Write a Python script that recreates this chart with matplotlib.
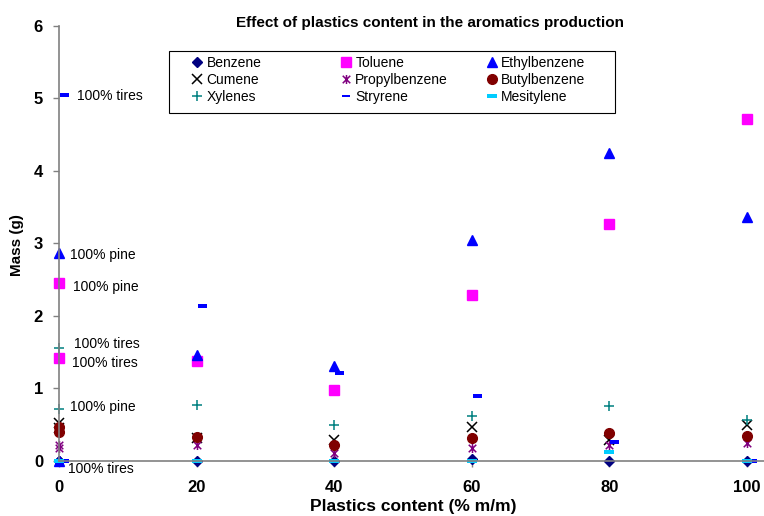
import matplotlib
matplotlib.use("Agg")
import matplotlib.pyplot as plt
from matplotlib.path import Path
from matplotlib.patches import Rectangle
from matplotlib.lines import Line2D

plt.rcParams['font.family'] = ['Liberation Sans', 'DejaVu Sans']

# plastics content; the two 0 entries are 100% pine and 100% tires
x = [0, 0, 20, 40, 60, 80, 100]
benzene = [0, 0, 0, 0, 0.03, 0, 0]
toluene = [2.45, 1.41, 1.38, 0.97, 2.28, 3.26, 4.72]
ethylbenzene = [2.86, 0.0, 1.46, 1.30, 3.04, 4.25, 3.36]
cumene = [0.52, 0.45, 0.31, 0.28, 0.46, 0.28, 0.49]
propylbenzene = [0.22, 0.18, 0.21, 0.11, 0.18, 0.22, 0.24]
butylbenzene = [0.47, 0.39, 0.33, 0.22, 0.32, 0.38, 0.34]
xylenes = [0.71, 1.56, 0.77, 0.49, 0.62, 0.75, 0.56]
stryrene = [0.0, 5.05, 2.13, 1.21, 0.89, 0.26, 0.0]
mesitylene = [0, 0, 0, 0, 0, 0.12, 0]

# point labels at 0 % plastics
point_labels = ["100% tires", "100% pine", "100% pine", "100% tires",
                "100% tires", "100% pine", "100% tires"]
label_x = [2.6, 1.6, 2.0, 2.2, 1.85, 1.6, 1.25]
label_y = [5.03, 2.84, 2.40, 1.61, 1.35, 0.74, -0.11]

W, H = 764, 516

# excel-like markers
star = Path([(-1, -1), (1, 1), (-1, 1), (1, -1), (0, -1.2), (0, 1.2)],
            [Path.MOVETO, Path.LINETO, Path.MOVETO, Path.LINETO, Path.MOVETO, Path.LINETO])
dash_right = Path([(0.1, -0.2), (1, -0.2), (1, 0.2), (0.1, 0.2), (0.1, -0.2)],
                  [Path.MOVETO, Path.LINETO, Path.LINETO, Path.LINETO, Path.CLOSEPOLY])
dash_mid = Path([(-1, -0.35), (1, -0.35), (1, 0.35), (-1, 0.35), (-1, -0.35)],
                [Path.MOVETO, Path.LINETO, Path.LINETO, Path.LINETO, Path.CLOSEPOLY])

series = [
    ("Benzene", benzene, dict(marker='D', color='#000080', ms=5.5)),
    ("Toluene", toluene, dict(marker='s', color='#FF00FF', ms=6.5)),
    ("Ethylbenzene", ethylbenzene, dict(marker='^', color='#0000FF', ms=7.5)),
    ("Cumene", cumene, dict(marker='x', color='black', ms=6.5, mew=1.1)),
    ("Propylbenzene", propylbenzene, dict(marker=star, color='#800080', ms=6.5, mew=1.1)),
    ("Butylbenzene", butylbenzene, dict(marker='o', color='#800000', ms=7)),
    ("Xylenes", xylenes, dict(marker='+', color='#008080', ms=7, mew=1.1)),
    ("Stryrene", stryrene, dict(marker=dash_right, color='#0000FF', ms=14.5, mew=0)),
    ("Mesitylene", mesitylene, dict(marker=dash_mid, color='#00CCFF', ms=7.5, mew=0)),
]

fig = plt.figure(figsize=(W / 100, H / 100), dpi=100)
ax = fig.add_axes([59 / W, 1 - 460.7 / H, 705 / W, 435 / H])

handles = {}
for name, vals, st in series:
    h, = ax.plot(x, vals, linestyle='none', label=name, clip_on=False, **st)
    handles[name] = h
# the legend shows a short centred dash for stryrene
handles["Stryrene"] = Line2D([], [], linestyle='none', marker=dash_mid,
                             color='#0000FF', ms=5.5, mew=0)

for t, lx, ly in zip(point_labels, label_x, label_y):
    ax.text(lx, ly, t, fontsize=10, ha='left', va='center')

ax.set_xlim(0, 102.5)
ax.set_ylim(0, 6)
ax.set_xticks([0, 20, 40, 60, 80, 100])
ax.set_yticks([0, 1, 2, 3, 4, 5, 6])
for s in ['top', 'right']:
    ax.spines[s].set_visible(False)
for s in ['left', 'bottom']:
    ax.spines[s].set_color('#808080')
    ax.spines[s].set_linewidth(1.2)
ax.tick_params(axis='both', direction='out', length=4.5, width=1, color='#808080',
               labelsize=12)
ax.tick_params(axis='y', pad=7)
ax.tick_params(axis='x', pad=9.5)
for lab in ax.get_xticklabels() + ax.get_yticklabels():
    lab.set_fontweight('bold')

fig.text(413 / W, 1 - 506 / H, 'Plastics content (% m/m)', fontsize=12.5,
         fontweight='bold', ha='center', va='center')
fig.text(17.5 / W, 1 - 245 / H, 'Mass (g)', fontsize=11, fontweight='bold',
         rotation=90, ha='center', va='center')
fig.text(430 / W, 1 - 23 / H, 'Effect of plastics content in the aromatics production',
         fontsize=11, fontweight='bold', ha='center', va='center')

# legend: 3x3 grid in a framed box, like the excel one
legend_rows = [["Benzene", "Toluene", "Ethylbenzene"],
               ["Cumene", "Propylbenzene", "Butylbenzene"],
               ["Xylenes", "Stryrene", "Mesitylene"]]
col_px = [197, 345.7, 491.7]
row_px = [62.7, 80, 97.3]
fig.patches.append(Rectangle((169 / W, 1 - 113.3 / H), (615 - 169) / W, 62.3 / H,
                             transform=fig.transFigure, facecolor='white',
                             edgecolor='black', linewidth=0.8, zorder=3))
for r, row in enumerate(legend_rows):
    for c, name in enumerate(row):
        fig.legend([handles[name]], [name], loc='center left', fontsize=10,
                   bbox_to_anchor=((col_px[c] - 7) / W, 1 - row_px[r] / H),
                   frameon=False, handlelength=1.0, handletextpad=0.2,
                   borderpad=0, borderaxespad=0)

fig.savefig('out.png', dpi=100)
